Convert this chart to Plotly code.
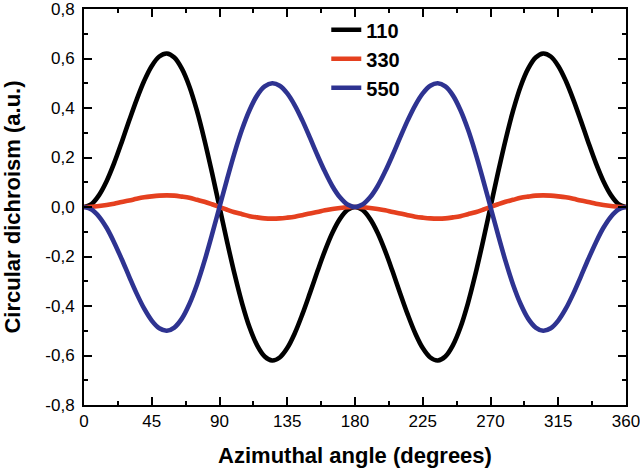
import plotly.graph_objects as go

angle = list(range(0, 365, 5))

cd_110 = [0, 0.012, 0.048, 0.104, 0.177, 0.261, 0.349, 0.434, 0.510, 0.570, 0.608, 0.620, 0.604, 0.559, 0.487, 0.389, 0.271, 0.139,
          0, -0.139, -0.271, -0.389, -0.487, -0.559, -0.604, -0.620, -0.608, -0.570, -0.510, -0.434, -0.349, -0.261, -0.177, -0.104, -0.048, -0.012,
          0, -0.012, -0.048, -0.104, -0.177, -0.261, -0.349, -0.434, -0.510, -0.570, -0.608, -0.620, -0.604, -0.559, -0.487, -0.389, -0.271, -0.139,
          0, 0.139, 0.271, 0.389, 0.487, 0.559, 0.604, 0.620, 0.608, 0.570, 0.510, 0.434, 0.349, 0.261, 0.177, 0.104, 0.048, 0.012, 0]

cd_330 = [0, 0.001, 0.004, 0.008, 0.013, 0.020, 0.026, 0.033, 0.039, 0.043, 0.046, 0.047, 0.046, 0.042, 0.037, 0.029, 0.021, 0.011,
          0, -0.011, -0.021, -0.029, -0.037, -0.042, -0.046, -0.047, -0.046, -0.043, -0.039, -0.033, -0.026, -0.020, -0.013, -0.008, -0.004, -0.001,
          0, -0.001, -0.004, -0.008, -0.013, -0.020, -0.026, -0.033, -0.039, -0.043, -0.046, -0.047, -0.046, -0.042, -0.037, -0.029, -0.021, -0.011,
          0, 0.011, 0.021, 0.029, 0.037, 0.042, 0.046, 0.047, 0.046, 0.043, 0.039, 0.033, 0.026, 0.020, 0.013, 0.008, 0.004, 0.001, 0]

cd_550 = [0, -0.010, -0.039, -0.084, -0.143, -0.210, -0.281, -0.350, -0.411, -0.459, -0.490, -0.500, -0.487, -0.451, -0.392, -0.314, -0.219, -0.112,
          0, 0.112, 0.219, 0.314, 0.392, 0.451, 0.487, 0.500, 0.490, 0.459, 0.411, 0.350, 0.281, 0.210, 0.143, 0.084, 0.039, 0.010,
          0, 0.010, 0.039, 0.084, 0.143, 0.210, 0.281, 0.350, 0.411, 0.459, 0.490, 0.500, 0.487, 0.451, 0.392, 0.314, 0.219, 0.112,
          0, -0.112, -0.219, -0.314, -0.392, -0.451, -0.487, -0.500, -0.490, -0.459, -0.411, -0.350, -0.281, -0.210, -0.143, -0.084, -0.039, -0.010, 0]

series_names = ["110", "330", "550"]
series_colors = ["#000000", "#e5401f", "#2e3391"]

x_tick_vals = [0, 45, 90, 135, 180, 225, 270, 315, 360]
x_tick_labels = ["0", "45", "90", "135", "180", "225", "270", "315", "360"]
x_minor_vals = [22.5, 67.5, 112.5, 157.5, 202.5, 247.5, 292.5, 337.5]
y_tick_vals = [-0.8, -0.6, -0.4, -0.2, 0.0, 0.2, 0.4, 0.6, 0.8]
y_tick_labels = ["-0,8", "-0,6", "-0,4", "-0,2", "0,0", "0,2", "0,4", "0,6", "0,8"]
y_minor_vals = [-0.7, -0.5, -0.3, -0.1, 0.1, 0.3, 0.5, 0.7]

fig = go.Figure()
for name, vals, col in zip(series_names, [cd_110, cd_330, cd_550], series_colors):
    fig.add_trace(go.Scatter(x=angle, y=vals, mode="lines", name="<b>" + name + "</b>",
                             line=dict(color=col, width=4.6, shape="spline")))

font_family = "Liberation Sans, Arial, sans-serif"
fig.update_layout(
    width=640, height=468,
    margin=dict(l=84, r=14, t=9, b=63),
    paper_bgcolor="white", plot_bgcolor="white",
    font=dict(family=font_family, size=17, color="black"),
    showlegend=True,
    legend=dict(x=0.447, y=0.997, xanchor="left", yanchor="top", bgcolor="rgba(0,0,0,0)",
                font=dict(size=20, color="black"), tracegroupgap=0),
)
fig.update_xaxes(
    range=[0, 360], tickmode="array", tickvals=x_tick_vals, ticktext=x_tick_labels,
    ticks="inside", ticklen=8, tickwidth=1.5, tickcolor="black",
    minor=dict(ticks="inside", ticklen=4, tickwidth=1.5, tickvals=x_minor_vals, tickcolor="black"),
    showline=True, linewidth=2, linecolor="black", mirror="allticks",
    showgrid=False, zeroline=False, automargin=False, ticklabeloverflow="allow",
    title=dict(text="<b>Azimuthal angle (degrees)</b>", font=dict(size=22), standoff=17),
)
fig.update_yaxes(
    range=[-0.8, 0.8], tickmode="array", tickvals=y_tick_vals, ticktext=y_tick_labels,
    ticks="inside", ticklen=8, tickwidth=1.5, tickcolor="black",
    minor=dict(ticks="inside", ticklen=4, tickwidth=1.5, tickvals=y_minor_vals, tickcolor="black"),
    showline=True, linewidth=2, linecolor="black", mirror="allticks",
    showgrid=False, zeroline=False, automargin=False, ticklabeloverflow="allow",
    ticklabelstandoff=4,
    title=dict(text="<b>Circular dichroism (a.u.)</b>", font=dict(size=22), standoff=33),
)

fig.write_html("out.html", config={"displayModeBar": False},
               post_script="document.body.style.margin='0';")
